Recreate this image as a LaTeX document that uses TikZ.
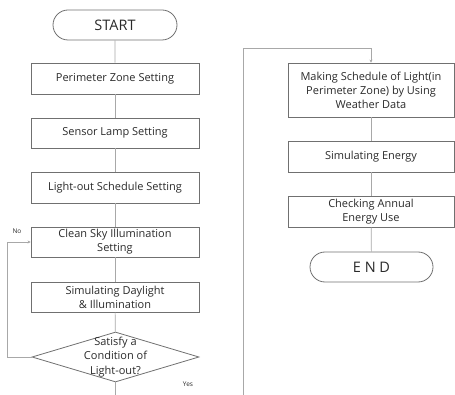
\documentclass[tikz,border=0pt]{standalone}
\usepackage{fontspec}
\setmainfont{Open Sans}
\usetikzlibrary{shapes.geometric,shapes.misc,arrows.meta}
\definecolor{boxgray}{HTML}{707070}
\definecolor{linegray}{HTML}{A8A8A8}
\definecolor{txt}{HTML}{2A2A2A}
\begin{document}
\begin{tikzpicture}[x=1pt,y=-1pt,
  box/.style={draw=boxgray, line width=0.8pt, minimum width=168pt, inner sep=0pt, align=center, text=txt, font=\fontsize{11}{14}\selectfont},
  term/.style={rounded rectangle, draw=boxgray, line width=0.8pt, minimum width=124pt, minimum height=30pt, inner sep=0pt, text=txt, font=\fontsize{14.5}{16}\selectfont},
  conn/.style={draw=linegray, line width=0.7pt},
  arr/.style={conn, -{Stealth[length=3pt,width=3pt]}},
  lbl/.style={text=txt, font=\fontsize{6.5}{8}\selectfont, inner sep=0pt}]
\useasboundingbox (0,0) rectangle (455,395);
% left column
\node[term] (start) at (115,25) {START};
\node[box, minimum height=31pt] (p1) at (115,78.5) {Perimeter Zone Setting};
\node[box, minimum height=30pt] (p2) at (115,133) {Sensor Lamp Setting};
\node[box, minimum height=31pt] (p3) at (115,187.5) {Light-out Schedule Setting};
\node[box, minimum height=30pt] (p4) at (115,242) {Clean Sky Illumination\\Setting};
\node[box, minimum height=30pt] (p5) at (115,297) {Simulating Daylight\\\& Illumination};
\node[diamond, draw=boxgray, line width=0.8pt, minimum width=167pt, minimum height=50pt, inner sep=0pt] (dia) at (115.5,357) {};
\node[align=center, text=txt, font=\fontsize{11}{14.5}\selectfont, inner sep=0pt] (diat) at (dia.center) {Satisfy a\\Condition of\\Light-out?};
\coordinate (bot) at (115.5,395);
\node[lbl] (yes) at (188,384) {Yes};
\node[lbl] (no) at (17,231) {No};
% right column
\node[box, minimum width=166pt, minimum height=54pt] (q1) at (371,90) {Making Schedule of Light(in\\Perimeter Zone) by Using\\Weather Data};
\node[box, minimum width=166pt, minimum height=31pt] (q2) at (371,156.5) {Simulating Energy};
\node[box, minimum width=166pt, minimum height=31pt] (q3) at (371,211.5) {Checking Annual\\Energy Use};
\node[term, minimum width=123pt] (endn) at (371.5,267) {E N D};
\coordinate (r0) at (243,395);
\coordinate (r1) at (243,48);
\coordinate (r2) at (371,48);
% connectors
\draw[conn] (start) -- (p1);
\draw[conn] (p1) -- (p2);
\draw[conn] (p2) -- (p3);
\draw[conn] (p3) -- (p4);
\draw[conn] (p4) -- (p5);
\draw[conn] (p5) -- (dia);
\draw[conn] (dia) -- (bot);
\draw[arr] (dia.west) -- (7,357) |- (p4.west);
\draw[arr] (r0) -- (r1) -- (r2) -- (q1.north);
\draw[conn] (q1) -- (q2);
\draw[conn] (q2) -- (q3);
\draw[conn] (q3) -- (endn);
\end{tikzpicture}
\end{document}
